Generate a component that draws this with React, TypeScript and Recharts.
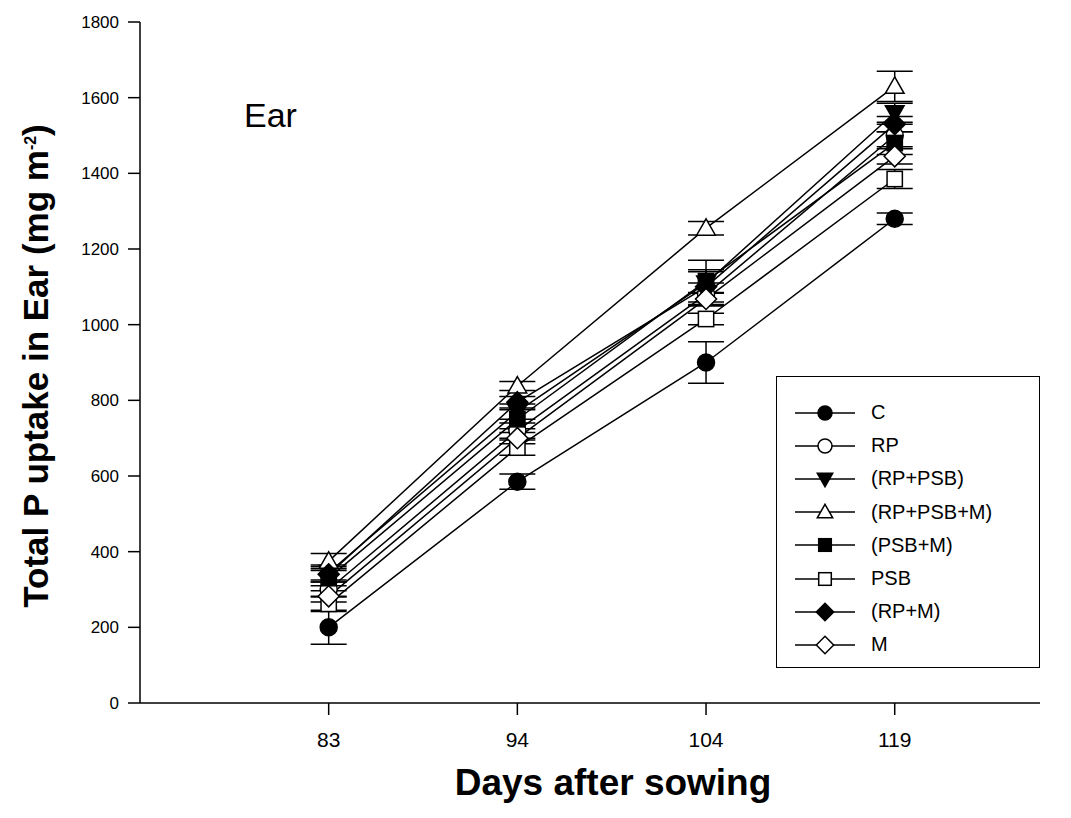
import React from "react";
import { LineChart, Line, XAxis, YAxis, ErrorBar, Label } from "recharts";

// sampling days (shown as evenly spaced categories)
const days = ["83", "94", "104", "119"];

// total P uptake in ear (mg m-2) per treatment
const cVals = [200, 585, 900, 1280];
const rpVals = [300, 720, 1080, 1500];
const rpPsbVals = [345, 770, 1110, 1560];
const rpPsbMVals = [375, 838, 1255, 1630];
const psbMVals = [330, 750, 1115, 1480];
const psbVals = [262, 675, 1015, 1385];
const rpMVals = [340, 795, 1100, 1530];
const mVals = [282, 700, 1068, 1445];

// standard errors
const cErr = [45, 20, 55, 15];
const rpErr = [20, 20, 30, 30];
const rpPsbErr = [20, 20, 60, 25];
const rpPsbMErr = [20, 12, 18, 40];
const psbMErr = [20, 25, 30, 30];
const psbErr = [20, 20, 15, 25];
const rpMErr = [20, 15, 40, 20];
const mErr = [15, 15, 15, 20];

const yTicks = [0, 200, 400, 600, 800, 1000, 1200, 1400, 1600, 1800];

type Shape = "circle" | "triangleDown" | "triangleUp" | "square" | "diamond";

interface SeriesDef {
  key: string;
  name: string;
  values: number[];
  errors: number[];
  shape: Shape;
  filled: boolean;
}

const series: SeriesDef[] = [
  { key: "c", name: "C", values: cVals, errors: cErr, shape: "circle", filled: true },
  { key: "rp", name: "RP", values: rpVals, errors: rpErr, shape: "circle", filled: false },
  { key: "rpPsb", name: "(RP+PSB)", values: rpPsbVals, errors: rpPsbErr, shape: "triangleDown", filled: true },
  { key: "rpPsbM", name: "(RP+PSB+M)", values: rpPsbMVals, errors: rpPsbMErr, shape: "triangleUp", filled: false },
  { key: "psbM", name: "(PSB+M)", values: psbMVals, errors: psbMErr, shape: "square", filled: true },
  { key: "psb", name: "PSB", values: psbVals, errors: psbErr, shape: "square", filled: false },
  { key: "rpM", name: "(RP+M)", values: rpMVals, errors: rpMErr, shape: "diamond", filled: true },
  { key: "m", name: "M", values: mVals, errors: mErr, shape: "diamond", filled: false },
];

const data = days.map((d, i) => {
  const row: Record<string, number | string> = { idx: i + 1, day: d };
  series.forEach((s) => {
    row[s.key] = s.values[i];
    row[s.key + "Err"] = s.errors[i];
  });
  return row;
});

const FONT = "'Liberation Sans', Arial, sans-serif";

const marker = (
  shape: Shape,
  filled: boolean,
  cx: number,
  cy: number,
  size: number,
  key?: string
) => {
  const fill = filled ? "#000" : "#fff";
  const common = { fill, stroke: "#000", strokeWidth: 1.5 };
  switch (shape) {
    case "circle":
      return <circle key={key} cx={cx} cy={cy} r={size * 0.5} {...common} />;
    case "square": {
      const h = size * 0.45;
      return <rect key={key} x={cx - h} y={cy - h} width={h * 2} height={h * 2} {...common} />;
    }
    case "diamond": {
      const h = size * 0.62;
      return (
        <polygon
          key={key}
          points={`${cx},${cy - h} ${cx + h},${cy} ${cx},${cy + h} ${cx - h},${cy}`}
          {...common}
        />
      );
    }
    case "triangleUp": {
      const h = size * 0.55;
      return (
        <polygon
          key={key}
          points={`${cx},${cy - h} ${cx + h},${cy + h * 0.75} ${cx - h},${cy + h * 0.75}`}
          {...common}
        />
      );
    }
    case "triangleDown": {
      const h = size * 0.55;
      return (
        <polygon
          key={key}
          points={`${cx - h},${cy - h * 0.75} ${cx + h},${cy - h * 0.75} ${cx},${cy + h}`}
          {...common}
        />
      );
    }
  }
};

const LegendBox = () => (
  <div
    style={{
      position: "absolute",
      left: 776,
      top: 376,
      border: "1.5px solid #000",
      width: 264,
      height: 292,
      background: "#fff",
      boxSizing: "border-box",
      paddingTop: 19,
      fontFamily: FONT,
      fontSize: 20,
    }}
  >
    {series.map((s) => (
      <div key={s.key} style={{ display: "flex", alignItems: "center", height: 33.2 }}>
        <svg width={90} height={30}>
          <line x1={18} y1={15} x2={78} y2={15} stroke="#000" strokeWidth={1.5} />
          {marker(s.shape, s.filled, 48, 15, 14)}
        </svg>
        <span style={{ marginLeft: 4 }}>{s.name}</span>
      </div>
    ))}
  </div>
);

const XTick = (p: any) => (
  <text x={p.x} y={p.y + 30} textAnchor="middle" fontFamily={FONT} fontSize={21} fill="#000">
    {days[p.payload.value - 1]}
  </text>
);

const YTick = (p: any) => (
  <text x={p.x - 7} y={p.y + 6} textAnchor="end" fontFamily={FONT} fontSize={17} fill="#000">
    {p.payload.value}
  </text>
);

const YTitle = () => (
  <text
    x={48}
    y={366}
    transform="rotate(-90, 48, 366)"
    textAnchor="middle"
    fontFamily={FONT}
    fontWeight="bold"
    fontSize={35}
    fill="#000"
  >
    Total P uptake in Ear (mg m
    <tspan dy={-12} fontSize={16}>-2</tspan>
    <tspan dy={12}>)</tspan>
  </text>
);

const XTitle = () => (
  <text
    x={613}
    y={795}
    textAnchor="middle"
    fontFamily={FONT}
    fontWeight="bold"
    fontSize={37}
    fill="#000"
  >
    Days after sowing
  </text>
);

export default function App() {
  return (
    <div style={{ position: "absolute", left: 0, top: 0, width: 1071, height: 818, background: "#fff" }}>
      <LineChart
        width={1071}
        height={818}
        data={data}
        margin={{ top: 22, right: 31, left: 80, bottom: 55 }}
      >
        <XAxis
          dataKey="idx"
          type="number"
          domain={[0, 4.77]}
          ticks={[1, 2, 3, 4]}
          height={60}
          stroke="#000"
          strokeWidth={1.5}
          tickSize={12}
          tick={<XTick />}
        >
          <Label content={<XTitle />} />
        </XAxis>
        <YAxis
          domain={[0, 1800]}
          ticks={yTicks}
          width={60}
          stroke="#000"
          strokeWidth={1.5}
          tickSize={12}
          tick={<YTick />}
          interval={0}
        >
          <Label content={<YTitle />} />
        </YAxis>
        {series.map((s) => (
          <Line
            key={s.key}
            dataKey={s.key}
            name={s.name}
            stroke="#000"
            strokeWidth={1.5}
            isAnimationActive={false}
            dot={(p: any) => marker(s.shape, s.filled, p.cx, p.cy, 17, `${s.key}-${p.index}`)}
            activeDot={false}
          >
            <ErrorBar dataKey={s.key + "Err"} width={18} stroke="#000" strokeWidth={1.5} direction="y" />
          </Line>
        ))}
      </LineChart>
      <LegendBox />
      <div
        style={{
          position: "absolute",
          left: 244,
          top: 96,
          fontFamily: FONT,
          fontSize: 34,
          color: "#000",
        }}
      >
        Ear
      </div>
    </div>
  );
}
